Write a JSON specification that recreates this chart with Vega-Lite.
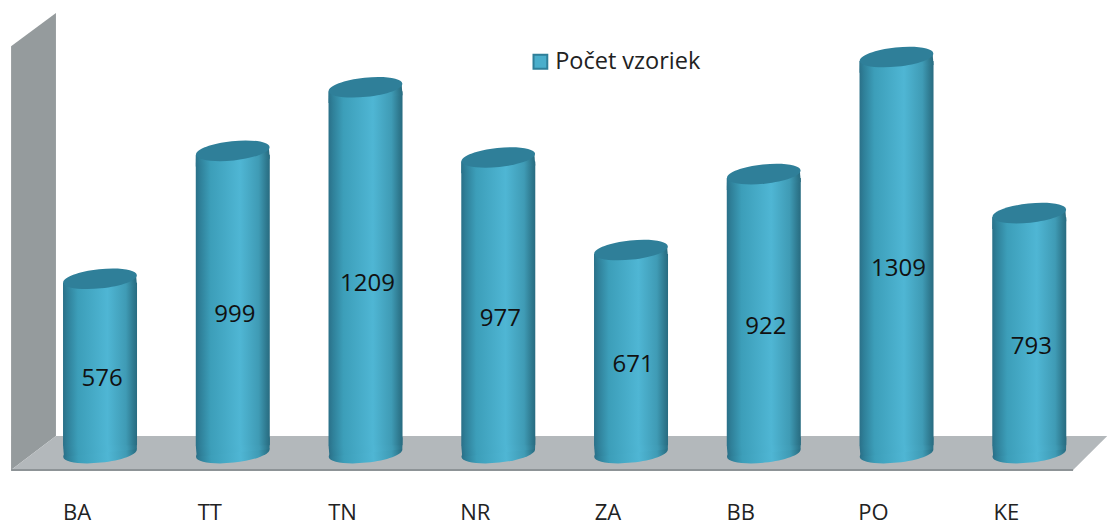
{
"$schema":"https://vega.github.io/schema/vega-lite/v6.json",
"autosize":"none",
"width":1062,"height":457,
"padding":{"left":33.65,"top":13,"right":11.35,"bottom":55},
"background":"white",
"view":{"stroke":null},
"config":{"font":"Open Sans"},
"datasets":{
"vals":[
{"k":"BA","n":576,"base":0},{"k":"TT","n":999,"base":0},{"k":"TN","n":1209,"base":0},{"k":"NR","n":977,"base":0},
{"k":"ZA","n":671,"base":0},{"k":"BB","n":922,"base":0},{"k":"PO","n":1309,"base":0},{"k":"KE","n":793,"base":0}],
"back":[{"a":0.168,"b":8.087,"lo":56,"hi":1454.5}],
"side":[{"a":-0.17,"lo":-56,"hi":1345},{"a":0.168,"lo":56,"hi":1454.5}],
"floor":[{"a":0.168,"b":8.087,"y":56},{"a":-0.17,"b":7.83,"y":-56}],
"edge":[{"a":-0.17,"y":-56},{"a":7.83,"y":-56}]
},
"layer":[
{"data":{"name":"back"},"mark":{"type":"area","color":"#e8f0f8"},
 "encoding":{"x":{"field":"a","type":"quantitative","axis":null,"scale":{"domain":[0,8],"nice":false,"zero":false}},"x2":{"field":"b"},
 "y":{"field":"lo","type":"quantitative","axis":null,"scale":{"domain":[-56,1454.5],"nice":false,"zero":false}},"y2":{"field":"hi"}}},
{"data":{"name":"side"},"mark":{"type":"area","color":"#959b9d"},
 "encoding":{"x":{"field":"a","type":"quantitative","axis":null,"scale":{"domain":[0,8],"nice":false,"zero":false}},
 "y":{"field":"lo","type":"quantitative","axis":null,"scale":{"domain":[-56,1454.5],"nice":false,"zero":false}},"y2":{"field":"hi"}}},
{"data":{"name":"floor"},"mark":{"type":"area","color":"#b3b8bb","orient":"horizontal"},
 "encoding":{"x":{"field":"a","type":"quantitative","axis":null,"scale":{"domain":[0,8],"nice":false,"zero":false}},"x2":{"field":"b"},
 "y":{"field":"y","type":"quantitative","axis":null,"scale":{"domain":[-56,1454.5],"nice":false,"zero":false}}}},
{"data":{"name":"edge"},"mark":{"type":"line","color":"#8d9396","strokeWidth":2},
 "encoding":{"x":{"field":"a","type":"quantitative","axis":null,"scale":{"domain":[0,8],"nice":false,"zero":false}},
 "y":{"field":"y","type":"quantitative","axis":null,"scale":{"domain":[-56,1454.5],"nice":false,"zero":false}}}},
{"data":{"name":"vals"},
 "layer":[
 {"mark":{"type":"point","shape":"M-1,0A1,0.26,0,1,1,1,0A1,0.26,0,1,1,-1,0Z","size":5476,"angle":-6,"filled":true,"opacity":1,
   "fill":{"x1":0,"y1":0,"x2":1,"y2":0,"gradient":"linear","stops":[{"offset":0,"color":"#2a7088"},{"offset":0.06,"color":"#2f8099"},{"offset":0.2,"color":"#3c9eb9"},{"offset":0.6,"color":"#4fb6d4"},{"offset":0.85,"color":"#3f9bb5"},{"offset":0.95,"color":"#2f7a90"},{"offset":1,"color":"#286b80"}]}},
  "encoding":{"x":{"field":"k","type":"nominal","sort":null},"y":{"field":"base","type":"quantitative"}}},
 {"mark":{"type":"point","shape":"M-0.98,0L1,0L1.039,-0.32L-0.972,-0.32Z","size":5476,"angle":-6,"filled":true,"opacity":1,
   "fill":{"x1":0,"y1":0,"x2":1,"y2":0,"gradient":"linear","stops":[{"offset":0,"color":"#2a7088"},{"offset":0.06,"color":"#2f8099"},{"offset":0.2,"color":"#3c9eb9"},{"offset":0.6,"color":"#4fb6d4"},{"offset":0.85,"color":"#3f9bb5"},{"offset":0.95,"color":"#2f7a90"},{"offset":1,"color":"#286b80"}]}},
  "encoding":{"x":{"field":"k","type":"nominal","sort":null},"y":{"field":"base","type":"quantitative"}}},
 {"mark":{"type":"bar","size":74,"yOffset":4,
   "fill":{"x1":0,"y1":0,"x2":1,"y2":0,"gradient":"linear","stops":[{"offset":0,"color":"#2a7088"},{"offset":0.06,"color":"#2f8099"},{"offset":0.2,"color":"#3c9eb9"},{"offset":0.6,"color":"#4fb6d4"},{"offset":0.85,"color":"#3f9bb5"},{"offset":0.95,"color":"#2f7a90"},{"offset":1,"color":"#286b80"}]}},
  "encoding":{"x":{"field":"k","type":"nominal","sort":null},"y":{"field":"n","type":"quantitative"},"y2":{"datum":26}}},
 {"mark":{"type":"point","shape":"M-1,0L0.98,0L0.972,0.32L-1.039,0.32Z","size":5476,"angle":-6,"filled":true,"opacity":1,
   "fill":{"x1":0,"y1":0,"x2":1,"y2":0,"gradient":"linear","stops":[{"offset":0,"color":"#2a7088"},{"offset":0.06,"color":"#2f8099"},{"offset":0.2,"color":"#3c9eb9"},{"offset":0.6,"color":"#4fb6d4"},{"offset":0.85,"color":"#3f9bb5"},{"offset":0.95,"color":"#2f7a90"},{"offset":1,"color":"#286b80"}]}},
  "encoding":{"x":{"field":"k","type":"nominal","sort":null},"y":{"field":"n","type":"quantitative"}}},
 {"mark":{"type":"point","shape":"M-1,0A1,0.26,0,1,1,1,0A1,0.26,0,1,1,-1,0Z","size":5476,"angle":-6,"filled":true,"opacity":1,"color":"#2f7f99"},
  "encoding":{"x":{"field":"k","type":"nominal","sort":null},"y":{"field":"n","type":"quantitative"}}},
 {"mark":{"type":"point","filled":true,"size":0,"opacity":1},
  "encoding":{"x":{"field":"k","type":"nominal","sort":null},"y":{"field":"n","type":"quantitative"},
   "fill":{"datum":"Počet vzoriek","type":"nominal","scale":{"domain":["Počet vzoriek"],"range":["#4aaecb"]},
    "legend":{"title":null,"orient":"none","legendX":495,"legendY":37,"symbolType":"square","symbolSize":190,"symbolStrokeWidth":2,"symbolOpacity":1,"labelFontSize":23.5,"labelFont":"Open Sans","labelColor":"#222222","labelOffset":3,"labelLimit":300}},
   "stroke":{"datum":"Počet vzoriek","type":"nominal","scale":{"domain":["Počet vzoriek"],"range":["#2f7f99"]}}}},
 {"transform":[{"fold":["n","base"],"as":["part","amount"]},{"aggregate":[{"op":"mean","field":"amount","as":"mid"},{"op":"max","field":"amount","as":"total"}],"groupby":["k"]}],
  "mark":{"type":"text","fontSize":24,"color":"#111111","dx":2,"dy":13.5,"font":"Open Sans"},
  "encoding":{"x":{"field":"k","type":"nominal","sort":null},"y":{"field":"mid","type":"quantitative"},"text":{"field":"total","type":"quantitative"}}}
 ],
 "encoding":{
  "x":{"field":"k","type":"nominal","sort":null,"title":null,"scale":{"type":"band","paddingInner":0,"paddingOuter":0},
   "axis":{"title":null,"domain":false,"ticks":false,"labelAngle":0,"labelFontSize":22,"labelFont":"Open Sans","labelColor":"#222222","labelPadding":42,"labelOffset":-23,"labelBaseline":"middle"}},
  "y":{"scale":{"domain":[-56,1454.5],"nice":false,"zero":false},"axis":null}
 }}
],
"resolve":{"scale":{"x":"independent"}}
}
